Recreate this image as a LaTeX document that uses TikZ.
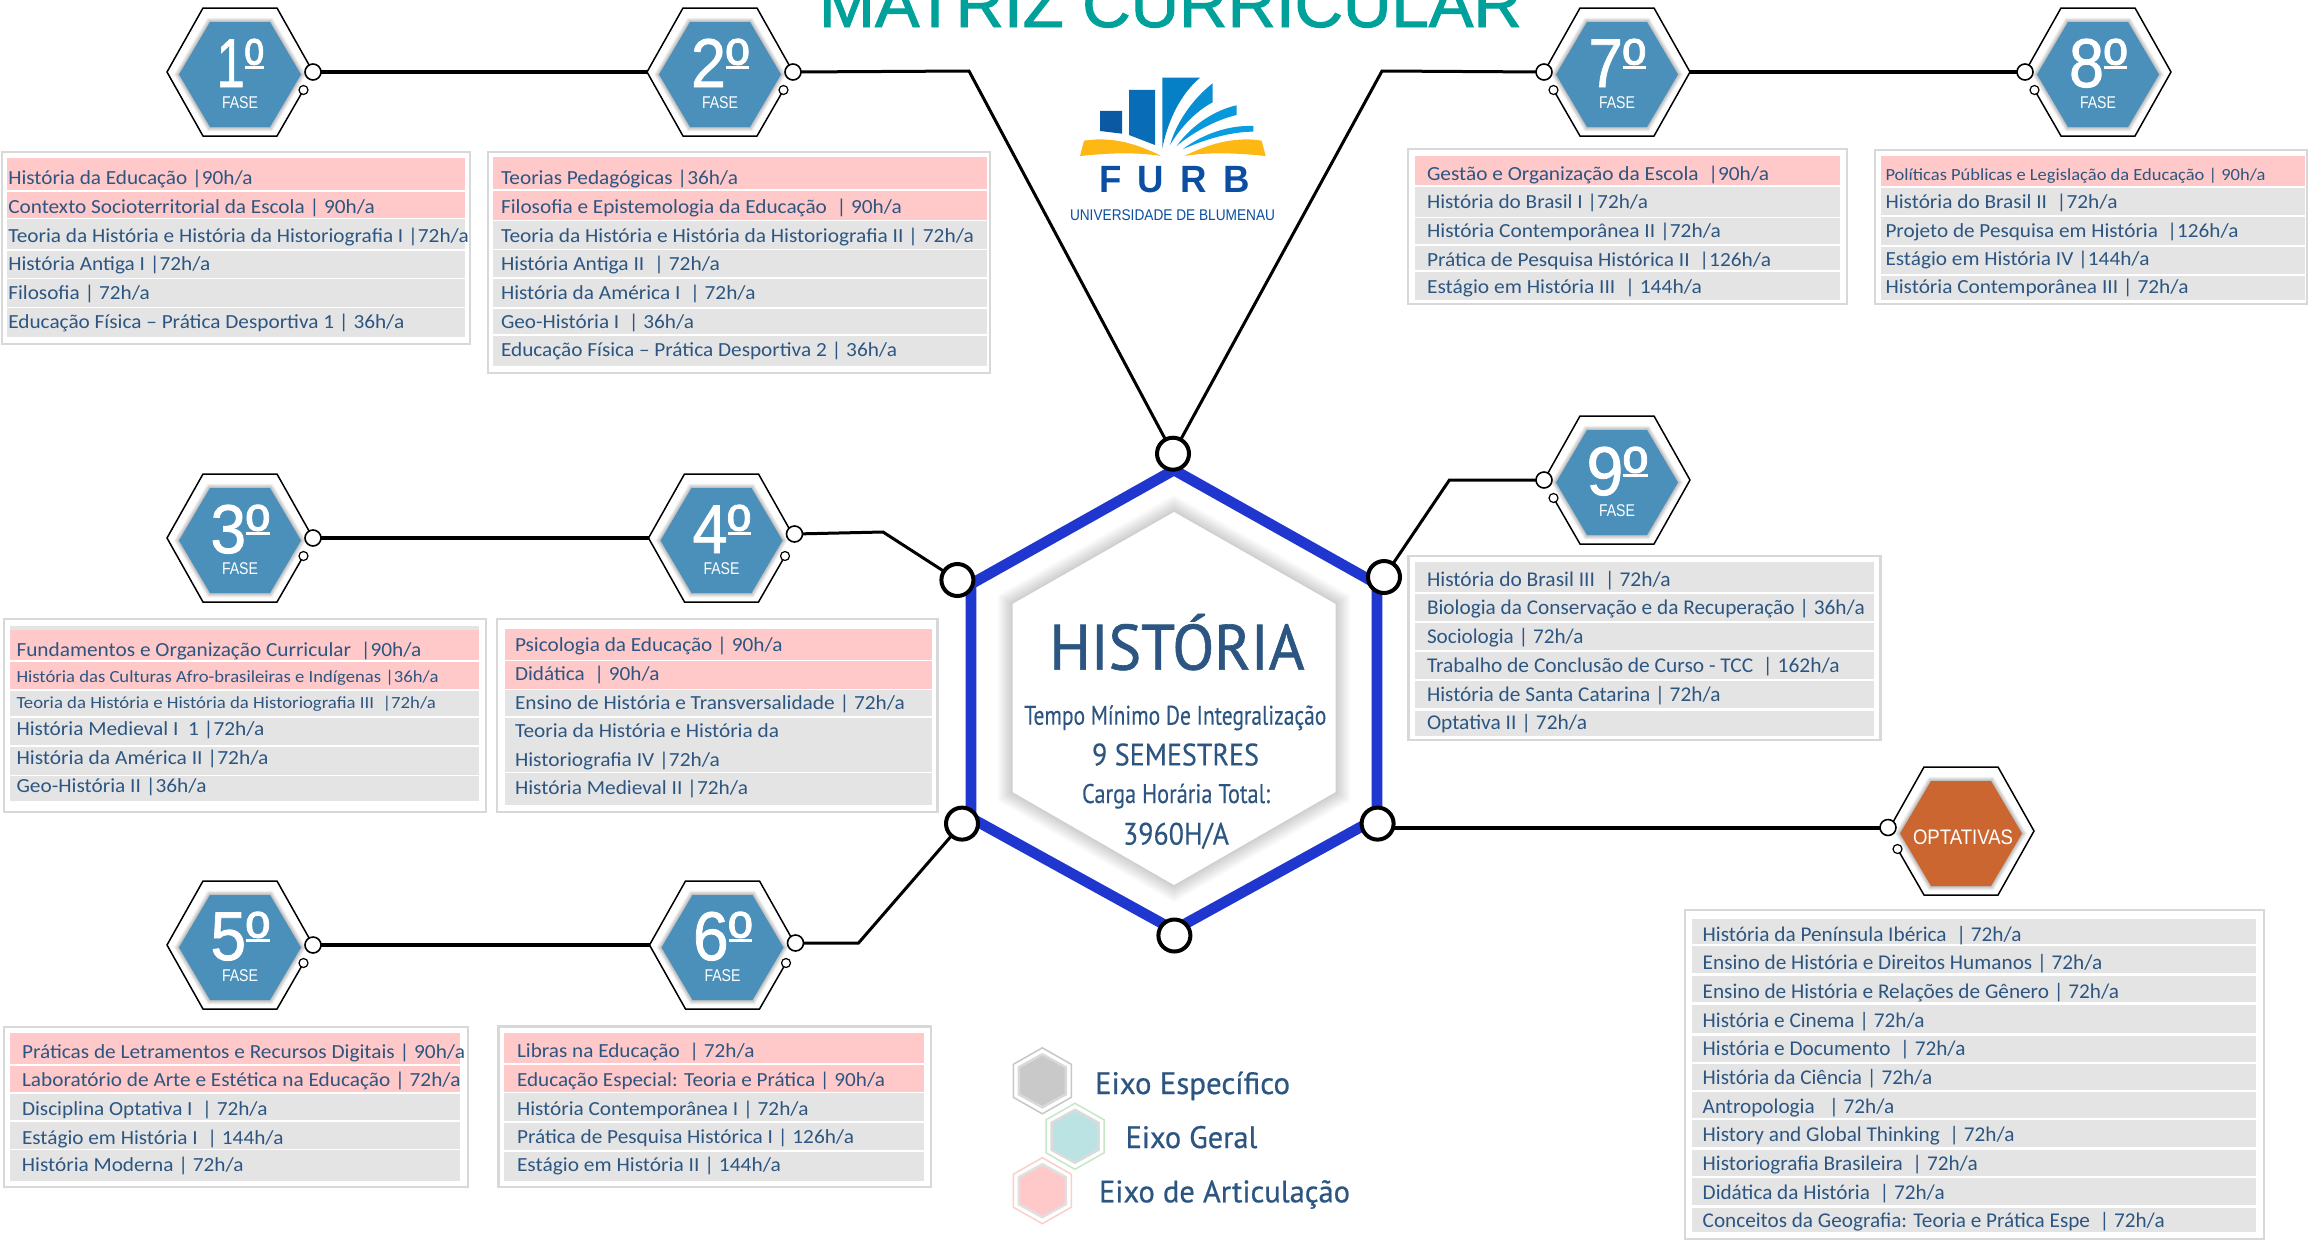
\documentclass[tikz,border=0pt]{standalone}
\usepackage{fontspec}
\usepackage{graphicx}
\setmainfont{Carlito}
\newfontfamily\lsans{Liberation Sans}
\newfontfamily\lsansb[FakeBold=1.2]{Liberation Sans}
\newfontfamily\lsanst[FakeBold=1.5]{Liberation Sans}
\newfontfamily\ptsans[FakeBold=0.25]{PT Sans}
\newfontfamily\ptsansb[FakeBold=1.0]{PT Sans}
\newfontfamily\ptsansl[FakeBold=0.6]{PT Sans}
\definecolor{rowpink}{HTML}{FFC9C9}
\definecolor{rowgray}{HTML}{E4E4E4}
\definecolor{boxline}{HTML}{D8D8D8}
\definecolor{txtblue}{HTML}{2C5681}
\definecolor{fasefill}{HTML}{4A90BA}
\definecolor{optfill}{HTML}{CB6630}
\definecolor{ringblue}{HTML}{1F36CF}
\definecolor{titleteal}{HTML}{00A19A}
\definecolor{furbblue}{HTML}{0B4EA2}
\definecolor{furbyellow}{HTML}{FDB813}
\newcounter{rowc}
\tikzset{
  rowtext/.style={anchor=base west,inner sep=0pt,outer sep=0pt,text=txtblue,font=\fontsize{20}{24}\selectfont},
  basetext/.style={anchor=base,inner sep=0pt,outer sep=0pt},
  headtext/.style={basetext,text=txtblue,font=\ptsans},
  conn/.style={draw=black,line width=4pt,line join=miter},
  connthin/.style={draw=black,line width=3pt,line join=miter},
  port/.style={circle,draw=black,fill=white,line width=1.6pt,minimum size=16pt,inner sep=0pt,outer sep=0pt},
  portsmall/.style={circle,draw=black,fill=white,line width=1.2pt,minimum size=9pt,inner sep=0pt,outer sep=0pt},
  hub/.style={circle,draw=black,fill=white,line width=4pt,minimum size=32pt,inner sep=0pt,outer sep=0pt},
}
\newcommand\flathex[6]{% options,cx,cy,hw,ht,hh
  \path[#1] (#2-#4,#3) -- (#2-#5,#3-#6) -- (#2+#5,#3-#6) -- (#2+#4,#3) -- (#2+#5,#3+#6) -- (#2-#5,#3+#6) -- cycle;}
\newcommand\pointhex[6]{% options,cx,cy,hw,hs,hh
  \path[#1] (#2,#3-#6) -- (#2+#4,#3-#5) -- (#2+#4,#3+#5) -- (#2,#3+#6) -- (#2-#4,#3+#5) -- (#2-#4,#3-#5) -- cycle;}
\newcommand\hexbase[6]{% name,cx,cy,side,port dy,fill
  \draw[black,line width=1.5pt,line join=miter] (#2+#4*73,#3) -- (#2+#4*37,#3-64) -- (#2-#4*37,#3-64) -- (#2-#4*73,#3) -- (#2-#4*37,#3+64) -- (#2+#4*37,#3+64) -- (#2+#4*63.5,#3+18);
  \coordinate (#1in) at (#2-#4*73,#3);
  \foreach \w [evaluate=\w as \c using 30*(1-\w/10)] in {9,7.5,6,4.5,3,1.5} {
    \flathex{draw=black!\c,line width=\w pt,line join=miter}{#2}{#3+2.5}{61}{30}{52.5}
  }
  \flathex{fill=#6}{#2}{#3+2.5}{61}{30}{52.5}
  \node[port] (#1p) at (#2+#4*73,#3+#5) {};
  \node[portsmall] (#1s) at (#2+#4*63.5,#3+18) {};
}
\newcommand\ordm{\makebox[0pt][l]{\raisebox{18pt}{\rule{0.37em}{2.8pt}}}º}
\newcommand\phase[7]{% name,cx,cy,side,port dy,digit width,digit
  \hexbase{#1}{#2}{#3}{#4}{#5}{fasefill}
  \node[basetext,text=white,font=\lsansb\fontsize{69}{70}\selectfont] (#1n) at (#2,#3+15) {\resizebox{#6pt}{\height}{#7\ordm}};
  \node[basetext,text=white,font=\lsans\fontsize{17}{20}\selectfont] (#1f) at (#2,#3+36) {\resizebox{36pt}{\height}{FASE}};
}
\newcommand\tbox[4]{\draw[boxline,line width=2.5pt,fill=white] (#1,#2) rectangle (#3,#4);}
\newcommand\rtext[3]{% base,width,text
  \stepcounter{rowc}%
  \node[rowtext] (row\arabic{rowc}) at (\tx,#1) {\resizebox{#2pt}{\height}{#3}};}
\newcommand\trow[6]{% colour,y0,y1,base,width,text
  \fill[#1] (\xa,#2) rectangle (\xb,#3);
  \rtext{#4}{#5}{#6}}
\newcommand\sm{\fontsize{17}{20}\selectfont}
\newcommand\bg{\fontsize{21}{24}\selectfont}
\newcommand\legendhex[5]{% cx,cy,outline,fill,border
  \pointhex{draw=#3,line width=1.5pt,line join=miter}{#1}{#2}{29}{16.5}{33}
  \pointhex{draw=#5,fill=#4,line width=2.5pt,line join=miter}{#1}{#2}{23.5}{13.5}{26.5}
}
\begin{document}
\begin{tikzpicture}[x=1pt,y=-1pt]
\fill[white] (0,0) rectangle (2310,1240);
\useasboundingbox (0,0) rectangle (2310,1240);

% title
\node[basetext,text=titleteal,font=\lsanst\fontsize{66}{70}\selectfont] (title) at (1170.5,27) {\resizebox{703pt}{\height}{MATRIZ CURRICULAR}};

% logo
\begin{scope}[shift={(1040,50)},x=0.3333pt,y=-0.3333pt]
\fill[color={rgb,255:red,11;green,88;blue,163}] (180,183) -- (246,183) -- (246,251) -- (180,243) -- cycle;
\fill[color={rgb,255:red,8;green,108;blue,182}] (267,120) -- (345,120) -- (345,285) -- (267,255) -- cycle;
\fill[color={rgb,255:red,5;green,128;blue,198}] (367,83) -- (480,83) .. controls (425,130) and (385,205) .. (367,295) -- cycle;
\fill[color={rgb,255:red,8;green,142;blue,210}] (518,100) -- (518,157) .. controls (465,185) and (420,235) .. (390,285) .. controls (410,215) and (460,145) .. (518,100) -- cycle;
\fill[color={rgb,255:red,8;green,152;blue,220}] (590,166) -- (590,195) .. controls (525,210) and (455,250) .. (410,288) .. controls (455,225) and (525,180) .. (590,166) -- cycle;
\fill[color={rgb,255:red,8;green,158;blue,224}] (640,228) -- (640,245) .. controls (570,245) and (490,270) .. (428,298) .. controls (490,250) and (570,225) .. (640,228) -- cycle;
\fill[furbyellow] (120,318) -- (132,272) .. controls (220,258) and (300,285) .. (363,318) .. controls (280,305) and (200,310) .. (120,318) -- cycle;
\fill[furbyellow] (433,318) .. controls (500,285) and (580,258) .. (665,272) -- (677,318) .. controls (600,310) and (510,305) .. (433,318) -- cycle;
\end{scope}
\node[basetext,text=furbblue,font=\lsans\bfseries\fontsize{38}{40}\selectfont] (furb) at (1174.7,192.7) {\resizebox{150.7pt}{\height}{F\hspace{16pt}U\hspace{18pt}R\hspace{17pt}B}};
\node[basetext,text=furbblue,font=\lsans\fontsize{15.5}{18}\selectfont] (univ) at (1172.5,220) {\resizebox{205pt}{\height}{UNIVERSIDADE DE BLUMENAU}};

% central hexagon
\foreach \w [evaluate=\w as \c using 20*(1-\w/32)] in {30,28,...,2} {
  \draw[black!\c,line width=\w pt,line join=miter] (1174,512) -- (1335.5,604) -- (1335.5,792) -- (1174,885) -- (1012.5,792) -- (1012.5,604) -- cycle;
}
\fill[white] (1174,512) -- (1335.5,604) -- (1335.5,792) -- (1174,885) -- (1012.5,792) -- (1012.5,604) -- cycle;
\draw[ringblue,line width=10.7pt,line join=miter] (1174,470) -- (1377,584) -- (1377,818) -- (1174,930) -- (971,818) -- (971,584) -- cycle;
\node[headtext,font=\ptsansb\fontsize{64}{70}\selectfont] (hist) at (1177,669.6) {\resizebox{255pt}{\height}{HISTÓRIA}};
\node[headtext,font=\ptsans\fontsize{27}{30}\selectfont] (tempo) at (1175.3,724.7) {\resizebox{302pt}{\height}{Tempo Mínimo De Integralização}};
\node[headtext,font=\ptsans\fontsize{31}{34}\selectfont] (sem) at (1175.5,765.4) {\resizebox{167pt}{\height}{9 SEMESTRES}};
\node[headtext,font=\ptsans\fontsize{27}{30}\selectfont] (carga) at (1176,803) {\resizebox{188pt}{\height}{Carga Horária Total:}};
\node[headtext,font=\ptsans\fontsize{31}{34}\selectfont] (horas) at (1176,844.6) {\resizebox{106pt}{\height}{3960H/A}};

% hub circles
\node[hub] (hubT) at (1173,453.7) {};
\node[hub] (hubUL) at (957.4,580) {};
\node[hub] (hubUR) at (1384,577) {};
\node[hub] (hubLL) at (962,823.6) {};
\node[hub] (hubLR) at (1377.6,823.6) {};
\node[hub] (hubB) at (1174.4,935.5) {};

% phase hexagons
\phase{f1}{240}{72}{1}{0}{47}{1}
\phase{f2}{720}{72}{1}{0}{58}{2}
\phase{f3}{240}{538}{1}{0}{59}{3}
\phase{f4}{721.5}{538}{1}{-4}{58}{4}
\phase{f5}{240}{945}{1}{0}{59}{5}
\phase{f6}{722.5}{945}{1}{-2}{59}{6}
\phase{f7}{1617}{72}{-1}{0}{57}{7}
\phase{f8}{2098}{72}{-1}{0}{58}{8}
\phase{f9}{1617}{480}{-1}{0}{61}{9}
\hexbase{op}{1961}{831}{-1}{-3.5}{optfill}
\node[basetext,text=white,font=\lsans\fontsize{21}{24}\selectfont] (optn) at (1963,844) {\resizebox{100pt}{\height}{OPTATIVAS}};

% connectors
\coordinate (e2) at (969,71);
\coordinate (e7) at (1382,71);
\coordinate (e4) at (883,532);
\coordinate (e6) at (858.5,943);
\coordinate (e9) at (1449.4,480);
\coordinate (lrstart) at (1394,827.5);
\draw[conn] (f1p) -- (f2in);
\draw[conn] (f3p) -- (f4in);
\draw[conn] (f5p) -- (f6in);
\draw[conn] (f7in) -- (f8p);
\draw[connthin] (f2p) -- (e2) -- (hubT);
\draw[connthin] (f7p) -- (e7) -- (hubT);
\draw[connthin] (f4p) -- (e4) -- (hubUL);
\draw[connthin] (f6p) -- (e6) -- (hubLL);
\draw[connthin] (f9p) -- (e9) -- (hubUR);
\draw[conn] (lrstart) -- (opp);

% phase 1
\tbox{2}{152}{470}{344}
\def\xa{7}\def\xb{465}\def\tx{8.3}
\trow{rowpink}{158}{190}{184}{244.3}{História da Educação |90h/a}
\trow{rowpink}{192}{217.7}{213}{366.7}{Contexto Socioterritorial da Escola | 90h/a}
\trow{rowgray}{219}{249}{242}{460.5}{Teoria da História e História da Historiografia I |72h/a}
\trow{rowgray}{250.7}{277.7}{270}{202}{História Antiga I |72h/a}
\trow{rowgray}{279}{307}{299}{141.6}{Filosofia | 72h/a}
\trow{rowgray}{308}{337}{328}{396}{Educação Física – Prática Desportiva 1 | 36h/a}

% phase 2
\tbox{488}{152}{990}{373}
\def\xa{493}\def\xb{987}\def\tx{501}
\trow{rowpink}{157}{189}{184}{237}{Teorias Pedagógicas |36h/a}
\trow{rowpink}{191}{220}{213}{401}{Filosofia e Epistemologia da Educação\ \ | 90h/a}
\trow{rowgray}{221}{249}{242}{473}{Teoria da História e História da Historiografia II | 72h/a}
\trow{rowgray}{250}{277}{270}{219}{História Antiga II\ \ | 72h/a}
\trow{rowgray}{279}{307}{299}{254.5}{História da América I\ \ | 72h/a}
\trow{rowgray}{309}{334}{328}{193}{Geo-História I\ \ | 36h/a}
\trow{rowgray}{336}{366}{356}{396}{Educação Física – Prática Desportiva 2 | 36h/a}

% phase 7
\tbox{1408}{149}{1847}{304}
\def\xa{1415}\def\xb{1840}\def\tx{1427}
\trow{rowpink}{156}{185}{180}{342}{Gestão e Organização da Escola\ \ |90h/a}
\trow{rowgray}{187}{217}{208}{221}{História do Brasil I |72h/a}
\trow{rowgray}{218}{244}{237}{294}{História Contemporânea II |72h/a}
\trow{rowgray}{246}{270}{266}{344}{Prática de Pesquisa Histórica II\ \ |126h/a}
\trow{rowgray}{272}{300}{293}{275}{Estágio em História III\ \ | 144h/a}

% phase 8
\tbox{1875}{150}{2307}{304}
\def\xa{1881}\def\xb{2305}\def\tx{1885.5}
\trow{rowpink}{156}{186}{180}{380}{\sm Políticas Públicas e Legislação da Educação | 90h/a}
\trow{rowgray}{188}{215}{208}{232}{História do Brasil II\ \ |72h/a}
\trow{rowgray}{217}{245}{237}{353}{Projeto de Pesquisa em História\ \ |126h/a}
\trow{rowgray}{247}{274}{265}{264}{Estágio em História IV |144h/a}
\trow{rowgray}{276}{300}{293}{303}{História Contemporânea III | 72h/a}

% phase 3
\tbox{4}{619}{486}{812}
\def\xa{10}\def\xb{479}\def\tx{16.5}
\fill[rowgray] (\xa,626) rectangle (\xb,630);
\trow{rowpink}{630}{660}{656.7}{405}{Fundamentos e Organização Curricular\ \ |90h/a}
\trow{rowpink}{661.7}{689}{682.7}{422}{\sm História das Culturas Afro-brasileiras e Indígenas |36h/a}
\trow{rowgray}{691}{715.7}{708}{419.5}{\sm Teoria da História e História da Historiografia III\ \ |72h/a}
\trow{rowgray}{717.7}{745}{735}{248}{História Medieval I\ \ 1 |72h/a}
\trow{rowgray}{746.7}{774.7}{764}{252}{História da América II |72h/a}
\trow{rowgray}{776}{800.7}{792}{190}{Geo-História II |36h/a}

% phase 4
\tbox{497}{619}{937.5}{812}
\def\xa{504.6}\def\xb{932}\def\tx{515}
\trow{rowpink}{629}{660}{651.7}{267.6}{Psicologia da Educação | 90h/a}
\trow{rowpink}{661}{689}{680.7}{144.5}{Didática\ \ | 90h/a}
\trow{rowgray}{690}{715.7}{709}{390}{Ensino de História e Transversalidade | 72h/a}
\trow{rowgray}{717.7}{771.7}{737.7}{264}{Teoria da História e História da}
\rtext{766.7}{205}{Historiografia IV |72h/a}
\trow{rowgray}{773}{804.7}{794}{233}{História Medieval II |72h/a}

% phase 5
\tbox{4}{1027}{468}{1187}
\def\xa{10}\def\xb{460}\def\tx{22}
\trow{rowpink}{1033}{1063.7}{1058}{443}{Práticas de Letramentos e Recursos Digitais | 90h/a}
\trow{rowpink}{1065.7}{1092}{1086.7}{438.5}{Laboratório de Arte e Estética na Educação | 72h/a}
\trow{rowgray}{1094}{1120}{1115.7}{245.6}{Disciplina Optativa I\ \ | 72h/a}
\trow{rowgray}{1122}{1148.7}{1144}{261.5}{Estágio em História I\ \ | 144h/a}
\trow{rowgray}{1150}{1180.7}{1171.7}{221.7}{História Moderna | 72h/a}

% phase 6
\tbox{498.5}{1026.7}{931}{1187}
\def\xa{504}\def\xb{923.5}\def\tx{517}
\trow{rowpink}{1033}{1063}{1057}{237.6}{Libras na Educação\ \ | 72h/a}
\trow{rowpink}{1065}{1091.7}{1086.7}{368}{Educação Especial: Teoria e Prática | 90h/a}
\trow{rowgray}{1093}{1121}{1115}{291.5}{História Contemporânea I | 72h/a}
\trow{rowgray}{1123}{1150}{1143}{337}{Prática de Pesquisa Histórica I | 126h/a}
\trow{rowgray}{1152}{1180.7}{1171.7}{264}{Estágio em História II | 144h/a}

% phase 9
\tbox{1408.5}{556}{1880.6}{740}
\def\xa{1415}\def\xb{1874}\def\tx{1427}
\trow{rowgray}{561.8}{591.7}{586.4}{243.8}{\bg História do Brasil III\ \ | 72h/a}
\trow{rowgray}{594.4}{620.7}{614.8}{437.7}{\bg Biologia da Conservação e da Recuperação | 36h/a}
\trow{rowgray}{623}{649.6}{643}{156.6}{\bg Sociologia | 72h/a}
\trow{rowgray}{652}{678.5}{672}{412.8}{\bg Trabalho de Conclusão de Curso - TCC\ \ | 162h/a}
\trow{rowgray}{681}{708}{701}{293.6}{\bg História de Santa Catarina | 72h/a}
\trow{rowgray}{710.7}{735.8}{729.4}{160}{\bg Optativa II | 72h/a}

% optativas
\tbox{1685}{910}{2264}{1239}
\def\xa{1692}\def\xb{2256}\def\tx{1702.7}
\trow{rowgray}{919}{943.7}{941}{319}{\bg História da Península Ibérica\ \ | 72h/a}
\trow{rowgray}{946.3}{973}{969.4}{399.8}{\bg Ensino de História e Direitos Humanos | 72h/a}
\trow{rowgray}{975.8}{1002}{998.3}{416.4}{\bg Ensino de História e Relações de Gênero | 72h/a}
\trow{rowgray}{1004.7}{1033}{1027.2}{221.8}{\bg História e Cinema | 72h/a}
\trow{rowgray}{1035.8}{1061.5}{1055.6}{262.8}{\bg História e Documento\ \ | 72h/a}
\trow{rowgray}{1064}{1090}{1084.5}{229.5}{\bg História da Ciência | 72h/a}
\trow{rowgray}{1092}{1117.7}{1113.4}{191.6}{\bg Antropologia\ \ \ | 72h/a}
\trow{rowgray}{1120}{1147}{1141.3}{312}{\bg History and Global Thinking\ \ | 72h/a}
\trow{rowgray}{1150}{1176}{1170}{275}{\bg Historiografia Brasileira\ \ | 72h/a}
\trow{rowgray}{1178}{1205}{1199}{242}{\bg Didática da História\ \ | 72h/a}
\trow{rowgray}{1207.7}{1232.3}{1227.5}{462}{\bg Conceitos da Geografia: Teoria e Prática Espe\ \ | 72h/a}

% legend
\legendhex{1042.3}{1080.8}{black!22}{black!21}{black!15}
\legendhex{1075}{1136.3}{{rgb,255:red,197;green,232;blue,200}}{{rgb,255:red,188;green,227;blue,227}}{black!14}
\legendhex{1042.3}{1190.7}{{rgb,255:red,251;green,207;blue,203}}{rowpink}{black!12}
\node[headtext,font=\ptsansl\fontsize{31}{34}\selectfont] (leg1) at (1192.5,1094) {\resizebox{195pt}{\height}{Eixo Específico}};
\node[headtext,font=\ptsansl\fontsize{31}{34}\selectfont] (leg2) at (1191.5,1148) {\resizebox{131.7pt}{\height}{Eixo Geral}};
\node[headtext,font=\ptsansl\fontsize{31}{34}\selectfont] (leg3) at (1224.5,1202.3) {\resizebox{251pt}{\height}{Eixo de Articulação}};
\end{tikzpicture}
\end{document}
